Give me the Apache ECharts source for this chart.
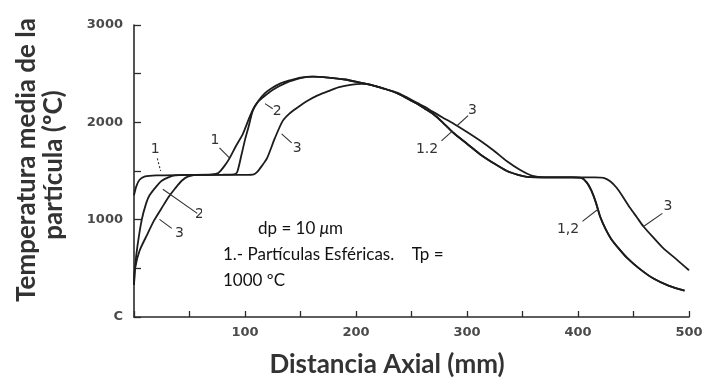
<!DOCTYPE html>
<html><head><meta charset="utf-8">
<script src="https://cdn.jsdelivr.net/npm/echarts@6/dist/echarts.min.js"></script>
<style>html,body{margin:0;padding:0;background:#fff}#c{width:708px;height:384px}</style>
</head><body><div id="c"></div>
<script>
// ---- data (x = axial distance mm, y = temperature ºC) ----
const curve1 = [[0,1250],[2,1340],[5,1410],[10,1445],[20,1455],[50,1460],[70,1465],[76,1480],[82,1560],[86,1630],[92,1760],[98,1880],[104,2050],[108,2150],[112,2220],[118,2300],[124,2350],[132,2400],[140,2430],[150,2460],[161,2470],[175,2460],[190,2440],[205,2405],[215,2380],[227,2340],[237,2300],[247,2240],[255,2190],[262,2140],[269,2090],[278,2000],[288,1890],[300,1780],[312,1670],[324,1580],[336,1500],[346,1460],[354,1440],[370,1435],[395,1435],[403,1430],[408,1380],[412,1300],[416,1180],[420,1030],[425,900],[430,800],[437,700],[444,610],[455,500],[468,395],[482,320],[496,270]];
const curve2 = [[0,330],[1,520],[3,720],[7,1000],[11,1170],[14,1250],[20,1340],[25,1400],[31,1435],[37,1455],[50,1460],[80,1462],[90,1465],[93,1490],[97,1675],[100,1820],[103,1945],[107,2120],[111,2200],[116,2255],[122,2310],[129,2360],[135,2395],[140,2420],[150,2455],[161,2470],[175,2460],[190,2440],[205,2405],[215,2380],[227,2340],[237,2300],[247,2240],[255,2190],[262,2140],[269,2090],[278,2000],[288,1890],[300,1780],[312,1670],[324,1580],[336,1500],[346,1460],[354,1440],[370,1435],[395,1435],[403,1430],[408,1380],[412,1300],[416,1180],[420,1030],[425,900],[430,800],[437,700],[444,610],[455,500],[468,395],[482,320],[496,270]];
const curve3 = [[0,330],[1,500],[5,680],[12,850],[18,990],[25,1120],[31,1230],[37,1320],[43,1400],[49,1445],[60,1460],[100,1460],[108,1465],[111,1490],[115,1550],[120,1635],[127,1840],[134,2015],[140,2090],[147,2150],[156,2220],[165,2275],[175,2320],[184,2360],[195,2385],[205,2395],[215,2380],[227,2340],[237,2305],[247,2250],[255,2200],[262,2160],[269,2110],[278,2050],[288,1985],[300,1900],[312,1810],[324,1710],[336,1600],[348,1510],[359,1450],[370,1435],[400,1435],[415,1435],[423,1430],[429,1395],[435,1325],[441,1225],[447,1120],[453,1025],[459,930],[468,815],[477,705],[489,590],[500,480]];
const yTickLabels = {0:'C',1000:'1000',2000:'2000',3000:'3000'};
const xTickLabels = {100:'100',200:'200',300:'300',400:'400',500:'500'};
// curve labels: [text, textX, textY, leaderFromX, leaderFromY, leaderToX, leaderToY, dashed]
const curveLabels = [
  ['1', 19, 1720, 21, 1630, 24, 1500, true],
  ['2', 59, 1055, 26, 1313, 57, 1065, false],
  ['3', 41, 858, 23, 1003, 34, 910, false],
  ['1', 73, 1810, 77, 1737, 86, 1634, false],
  ['2', 129, 2110, 118, 2192, 125, 2140, false],
  ['3', 147, 1737, 133, 1882, 142, 1789, false],
  ['3', 305, 2120, 291, 1965, 301, 2068, false],
  ['1.2', 264, 1727, 277, 1810, 287, 1913, false],
  ['1,2', 391, 900, 404, 982, 418, 1107, false],
  ['3', 481, 1137, 459, 930, 476, 1065, false]
];
const noteLines = ['dp = 10 {mu|μ}m', '1.- Partículas Esféricas.    Tp =', '1000 ºC'];
const xTitle = 'Distancia Axial (mm)';
const yTitle = ['Temperatura media de la', 'partícula (ºC)'];

const chart = echarts.init(document.getElementById('c'), null, {renderer: 'canvas'});
const lineStyle = {color: '#1c1c1c', width: 1.8};
const mk = (d) => ({type: 'line', data: d, smooth: 0.25, showSymbol: false, symbol: 'none', lineStyle, z: 3, animation: false});
chart.setOption({
  backgroundColor: '#fff',
  animation: false,
  grid: {left: 134, right: 19, top: 25, bottom: 67},
  xAxis: {
    type: 'value', min: 0, max: 500, interval: 50,
    axisLine: {lineStyle: {color: '#2a2a2a', width: 1.6}},
    axisTick: {inside: true, length: 6, lineStyle: {color: '#2a2a2a', width: 1.3}},
    axisLabel: {margin: 9, color: '#4a4a4a', fontFamily: 'DejaVu Sans', fontWeight: 'bold', fontSize: 13, formatter: v => xTickLabels[v] || ''},
    splitLine: {show: false}
  },
  yAxis: {
    type: 'value', min: 0, max: 3000, interval: 500,
    axisLine: {show: true, lineStyle: {color: '#2a2a2a', width: 1.6}},
    axisTick: {show: true, inside: true, length: 7, lineStyle: {color: '#2a2a2a', width: 1.3}},
    axisLabel: {margin: 11, color: '#4a4a4a', fontFamily: 'DejaVu Sans', fontWeight: 'bold', fontSize: 13, formatter: v => yTickLabels[v] || ''},
    splitLine: {show: false}
  },
  series: [mk(curve1), mk(curve2), mk(curve3)]
});

const g = [];
curveLabels.forEach(l => {
  const t = chart.convertToPixel({gridIndex: 0}, [l[1], l[2]]);
  const a = chart.convertToPixel({gridIndex: 0}, [l[3], l[4]]);
  const b = chart.convertToPixel({gridIndex: 0}, [l[5], l[6]]);
  g.push({type: 'line', shape: {x1: a[0], y1: a[1], x2: b[0], y2: b[1]}, style: {stroke: '#333', lineWidth: 1.1, lineDash: l[7] ? [2, 2] : null}, z: 5});
  g.push({type: 'text', x: t[0], y: t[1], style: {text: l[0], fill: '#333', font: '14px "DejaVu Sans"', align: 'center', verticalAlign: 'middle'}, z: 5});
});
// white note box
g.push({type: 'rect', shape: {x: 202, y: 199, width: 272, height: 102}, style: {fill: '#fff'}, z: 10});
g.push({type: 'text', x: 258, y: 229, style: {text: noteLines[0], fill: '#111', font: '17px Lato', verticalAlign: 'middle', rich: {mu: {fontStyle: 'italic', font: 'italic 17px Lato', fill: '#111'}}}, z: 11});
g.push({type: 'text', x: 223, y: 255, style: {text: noteLines[1], fill: '#111', font: '17px Lato', verticalAlign: 'middle'}, z: 11});
g.push({type: 'text', x: 223, y: 281, style: {text: noteLines[2], fill: '#111', font: '17px Lato', verticalAlign: 'middle'}, z: 11});
// titles
g.push({type: 'text', x: 387, y: 365, style: {text: xTitle, fill: '#333', font: 'bold 26px Lato', align: 'center', verticalAlign: 'middle'}, z: 11});
g.push({type: 'text', x: 27, y: 160, rotation: Math.PI / 2, style: {text: yTitle[0], fill: '#333', font: 'bold 26px Lato', align: 'center', verticalAlign: 'middle'}, z: 11});
g.push({type: 'text', x: 54, y: 165, rotation: Math.PI / 2, style: {text: yTitle[1], fill: '#333', font: 'bold 26px Lato', align: 'center', verticalAlign: 'middle'}, z: 11});
chart.setOption({graphic: {elements: g}});
</script></body></html>
